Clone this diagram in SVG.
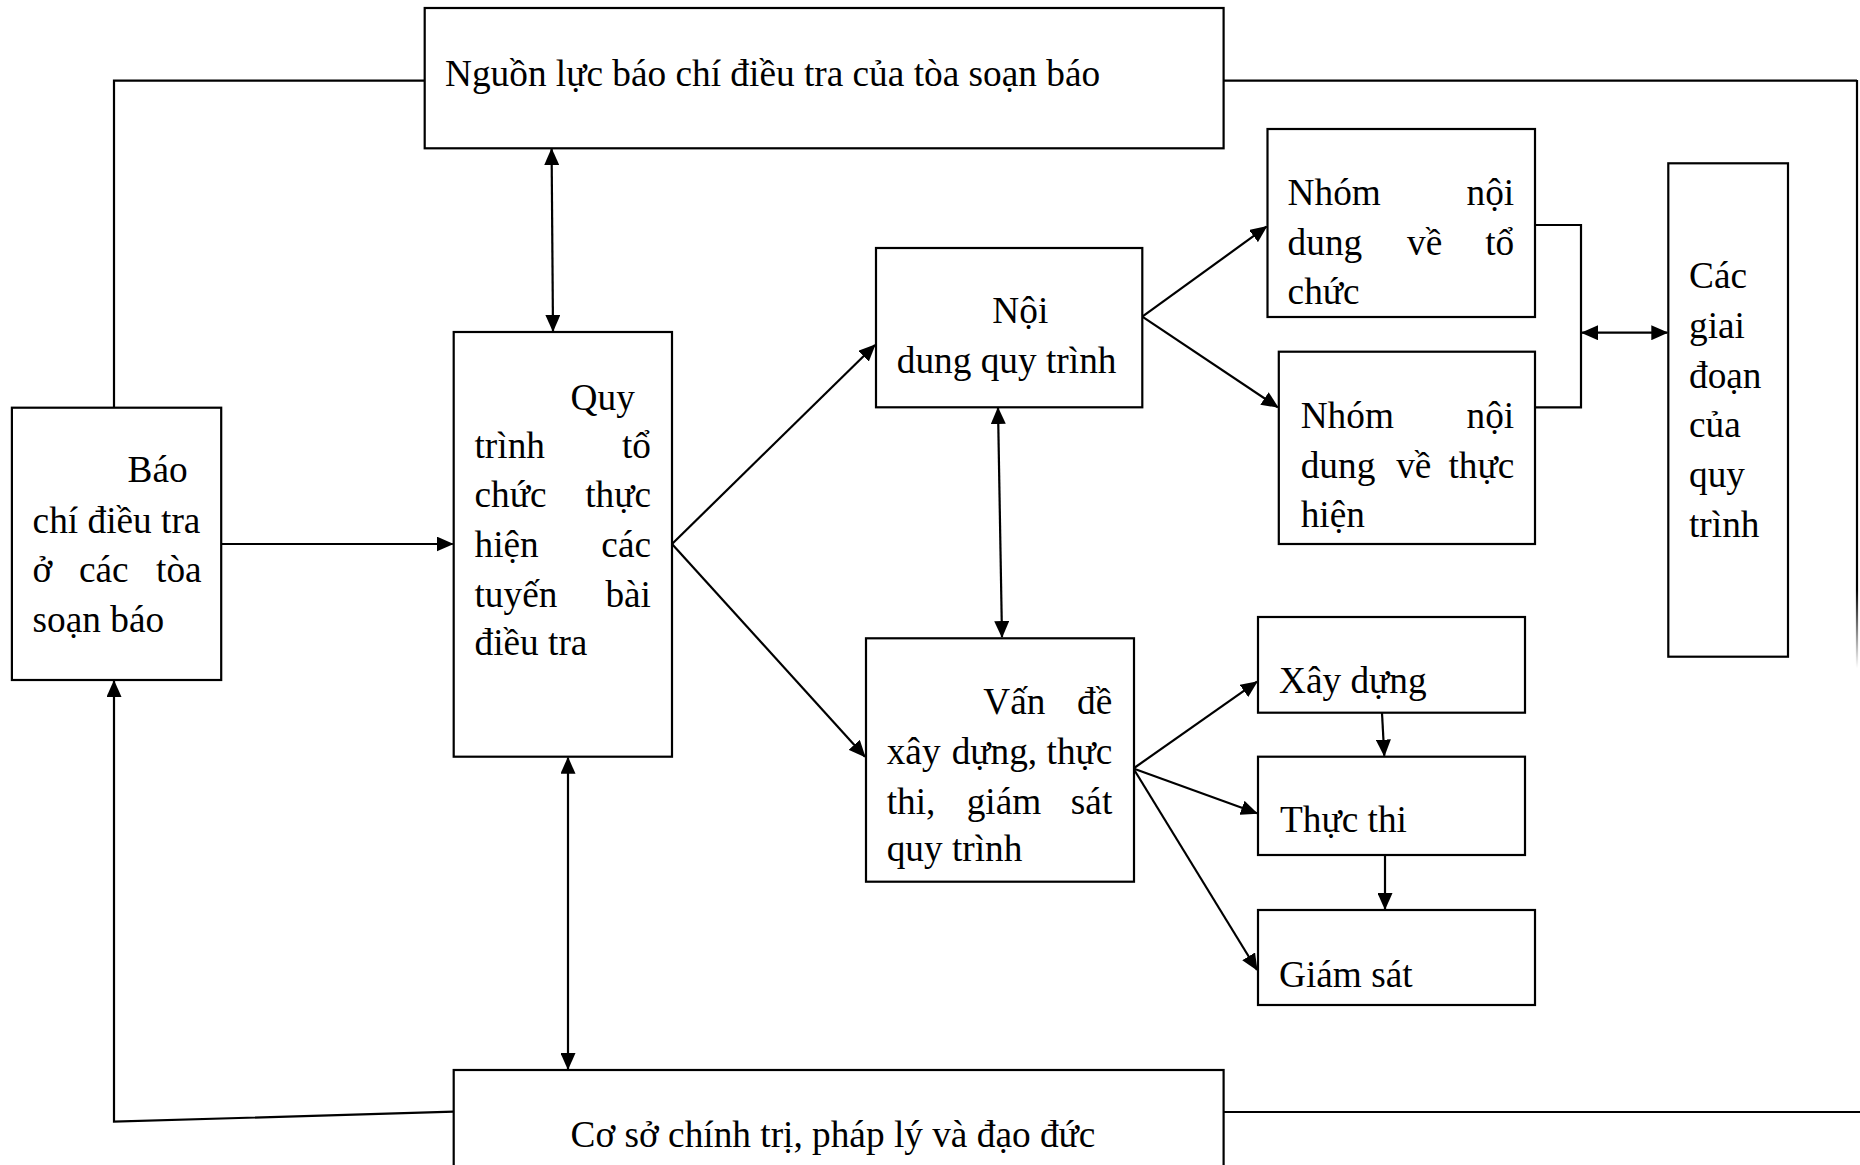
<svg xmlns="http://www.w3.org/2000/svg" width="1860" height="1165" viewBox="0 0 1860 1165">
<style>
.box{fill:#fff;stroke:#000;stroke-width:2.2}
.ln{fill:none;stroke:#000;stroke-width:2.2}
.t{font-family:"Liberation Serif","Times New Roman",serif;font-size:37.3px;fill:#000}
.e{text-anchor:end}
</style>
<defs>
<marker id="ah" markerUnits="userSpaceOnUse" markerWidth="17" markerHeight="15" refX="16" refY="7.5" orient="auto-start-reverse" viewBox="0 0 17 15">
<path d="M0,0 L17,7.5 L0,15 z" fill="#000"/>
</marker>
<linearGradient id="fade" gradientUnits="userSpaceOnUse" x1="0" y1="590" x2="0" y2="668">
<stop offset="0" stop-color="#000"/>
<stop offset="1" stop-color="#000" stop-opacity="0"/>
</linearGradient>
</defs>
<rect width="1860" height="1165" fill="#fff"/>

<g id="connectors">
<polyline class="ln" points="425,80.7 114,80.7 114,408"/>
<polyline class="ln" points="1223.6,80.7 1857,80.7"/>
<line x1="1857" y1="80" x2="1857" y2="668" stroke="url(#fade)" stroke-width="2.2"/>
<line class="ln" x1="1223.6" y1="1112" x2="1860" y2="1112"/>
<polyline class="ln" points="453.7,1111.7 114,1121.7 114,681" marker-end="url(#ah)"/>
<line class="ln" x1="221" y1="544" x2="452.7" y2="544" marker-end="url(#ah)"/>
<line class="ln" x1="551.6" y1="149" x2="553" y2="331" marker-start="url(#ah)" marker-end="url(#ah)"/>
<line class="ln" x1="568" y1="757.7" x2="568" y2="1069" marker-start="url(#ah)" marker-end="url(#ah)"/>
<line class="ln" x1="672" y1="544" x2="875" y2="345" marker-end="url(#ah)"/>
<line class="ln" x1="672" y1="544" x2="865" y2="756.7" marker-end="url(#ah)"/>
<line class="ln" x1="998" y1="408" x2="1002" y2="637" marker-start="url(#ah)" marker-end="url(#ah)"/>
<line class="ln" x1="1142.3" y1="316.7" x2="1266.5" y2="226.7" marker-end="url(#ah)"/>
<line class="ln" x1="1142.3" y1="316.7" x2="1277.8" y2="407.3" marker-end="url(#ah)"/>
<polyline class="ln" points="1535,225 1581,225 1581,407.3 1535,407.3"/>
<line class="ln" x1="1582" y1="332.7" x2="1667.3" y2="332.7" marker-start="url(#ah)" marker-end="url(#ah)"/>
<line class="ln" x1="1133.4" y1="768.5" x2="1257" y2="681.7" marker-end="url(#ah)"/>
<line class="ln" x1="1133.4" y1="768.5" x2="1257" y2="813.3" marker-end="url(#ah)"/>
<line class="ln" x1="1133.4" y1="768.5" x2="1257" y2="970" marker-end="url(#ah)"/>
<line class="ln" x1="1382" y1="713" x2="1384.3" y2="755.7" marker-end="url(#ah)"/>
<line class="ln" x1="1385" y1="855" x2="1385" y2="909" marker-end="url(#ah)"/>
</g>

<g id="n-nguonluc">
<rect class="box" x="424.7" y="8" width="798.9" height="140.3"/>
<text class="t" x="445" y="86">Nguồn lực báo chí điều tra của tòa soạn báo</text>
</g>

<g id="n-baochi">
<rect class="box" x="11.9" y="407.7" width="209.3" height="272.3"/>
<text class="t" x="127.5" y="481.7">Báo</text>
<text class="t" x="32.6" y="532.7">chí điều tra</text>
<text class="t" x="32.6" y="581.7">ở</text>
<text class="t" x="78.9" y="581.7">các</text>
<text class="t e" x="201.7" y="581.7">tòa</text>
<text class="t" x="32.6" y="631.7">soạn báo</text>
</g>

<g id="n-quytrinh">
<rect class="box" x="453.7" y="332" width="218.3" height="424.7"/>
<text class="t" x="570.6" y="410">Quy</text>
<text class="t" x="474.5" y="458.3">trình</text>
<text class="t e" x="651" y="458.3">tổ</text>
<text class="t" x="474.5" y="506.7">chức</text>
<text class="t e" x="651" y="506.7">thực</text>
<text class="t" x="474.5" y="556.7">hiện</text>
<text class="t e" x="651" y="556.7">các</text>
<text class="t" x="474.5" y="606.7">tuyến</text>
<text class="t e" x="651" y="606.7">bài</text>
<text class="t" x="474.5" y="655">điều tra</text>
</g>

<g id="n-noidung">
<rect class="box" x="876" y="248" width="266.3" height="159.3"/>
<text class="t" x="992.3" y="323.3">Nội</text>
<text class="t" x="896.8" y="373.3">dung quy trình</text>
</g>

<g id="n-vande">
<rect class="box" x="866" y="638.3" width="268" height="243.4"/>
<text class="t" x="983.3" y="714.3">Vấn</text>
<text class="t e" x="1112.3" y="714.3">đề</text>
<text class="t" x="886.7" y="764.3">xây</text>
<text class="t" x="951.7" y="764.3">dựng,</text>
<text class="t e" x="1112.3" y="764.3">thực</text>
<text class="t" x="886.7" y="814.3">thi,</text>
<text class="t" x="966.7" y="814.3">giám</text>
<text class="t e" x="1112.3" y="814.3">sát</text>
<text class="t" x="886.7" y="861">quy trình</text>
</g>

<g id="n-nhom1">
<rect class="box" x="1267.5" y="129" width="267.5" height="188"/>
<text class="t" x="1287.6" y="205">Nhóm</text>
<text class="t e" x="1514.2" y="205">nội</text>
<text class="t" x="1287.6" y="255">dung</text>
<text class="t" x="1407" y="255">về</text>
<text class="t e" x="1514.2" y="255">tổ</text>
<text class="t" x="1287.6" y="304">chức</text>
</g>

<g id="n-nhom2">
<rect class="box" x="1278.8" y="351.7" width="256.2" height="192.3"/>
<text class="t" x="1300.7" y="428.3">Nhóm</text>
<text class="t e" x="1514.2" y="428.3">nội</text>
<text class="t" x="1300.7" y="477.7">dung</text>
<text class="t" x="1396.2" y="477.7">về</text>
<text class="t e" x="1514.2" y="477.7">thực</text>
<text class="t" x="1300.7" y="526.7">hiện</text>
</g>

<g id="n-cacgiaidoan">
<rect class="box" x="1668.3" y="163.3" width="119.7" height="493.4"/>
<text class="t" x="1689" y="288">Các</text>
<text class="t" x="1689" y="338">giai</text>
<text class="t" x="1689" y="388">đoạn</text>
<text class="t" x="1689" y="436.7">của</text>
<text class="t" x="1689" y="486.7">quy</text>
<text class="t" x="1689" y="536.7">trình</text>
</g>

<g id="n-xaydung">
<rect class="box" x="1258" y="617" width="267" height="95.7"/>
<text class="t" x="1279" y="693.3">Xây dựng</text>
</g>

<g id="n-thucthi">
<rect class="box" x="1258" y="756.7" width="267" height="98.3"/>
<text class="t" x="1280" y="831.7">Thực thi</text>
</g>

<g id="n-giamsat">
<rect class="box" x="1258" y="910" width="277" height="95"/>
<text class="t" x="1279" y="986.7">Giám sát</text>
</g>

<g id="n-coso">
<rect class="box" x="453.7" y="1070" width="769.9" height="120"/>
<text class="t" x="570.6" y="1146.7">Cơ sở chính trị, pháp lý và đạo đức</text>
</g>
</svg>
